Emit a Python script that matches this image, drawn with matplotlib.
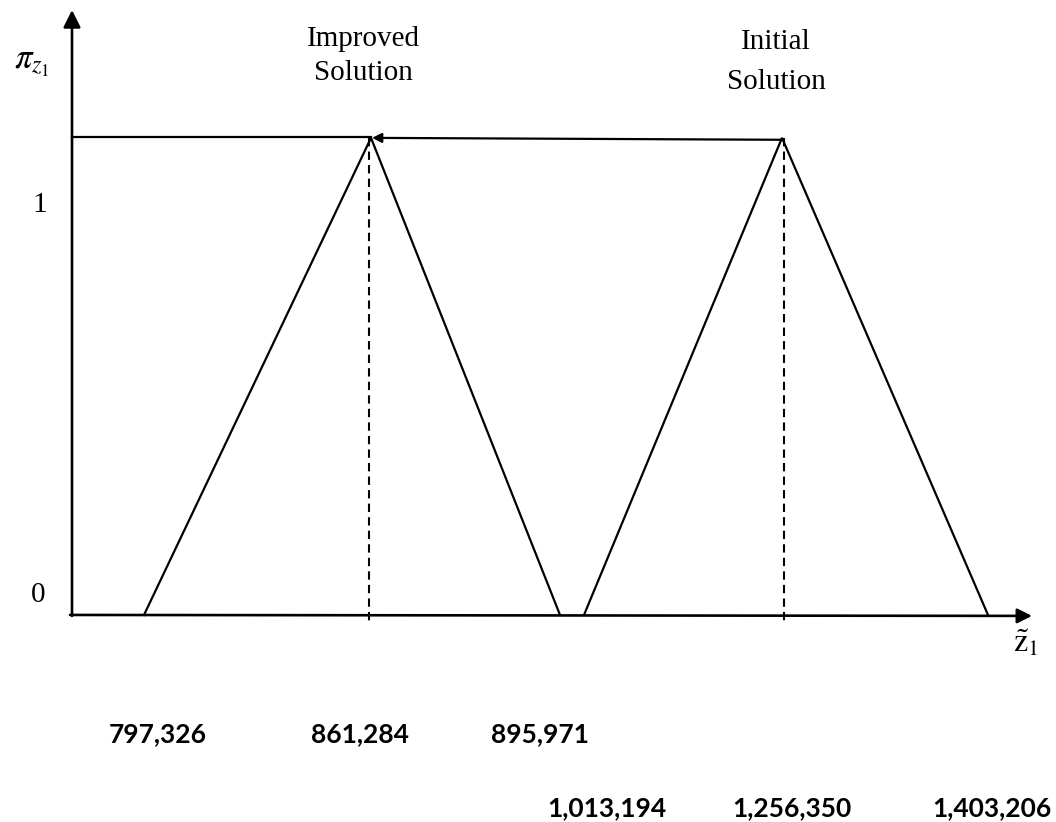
import matplotlib
matplotlib.use("Agg")
import matplotlib.pyplot as plt

# ---- data (values from the reference) ----
improved_vals = [797326, 861284, 895971]      # left, peak, right of improved solution
initial_vals = [1013194, 1256350, 1403206]    # left, peak, right of initial solution
membership = [0, 1, 0]                         # triangular membership at left, peak, right
solution_names = ["Improved\nSolution", "Initial\nSolution"]
y_tick_labels = ["0", "1"]

# ---- schematic layout (diagram is not to scale) ----
improved_pos = [144, 371, 560]
initial_pos = [584, 782, 988]

plt.rcParams["mathtext.fontset"] = "stix"
serif = "Liberation Serif"

fig = plt.figure(figsize=(10.56, 8.22), dpi=100)
ax = fig.add_axes([0, 0, 1, 1])
ax.set_xlim(0, 1056)
ax.set_ylim(-0.434, 1.289)
ax.axis("off")

lw = 1.6
# axes with arrows
ax.annotate("", xy=(72, 1.268), xytext=(72, -0.002),
            arrowprops=dict(arrowstyle="-|>", lw=1.9, color="black",
                            mutation_scale=26, shrinkA=0, shrinkB=0))
ax.annotate("", xy=(1032, -0.002), xytext=(70, 0.0),
            arrowprops=dict(arrowstyle="-|>", lw=1.9, color="black",
                            mutation_scale=22, shrinkA=0, shrinkB=0))

# triangles
ax.plot(improved_pos, membership, color="black", lw=lw, solid_joinstyle="miter")
ax.plot(initial_pos, membership, color="black", lw=lw, solid_joinstyle="miter")

# dashed verticals at peaks
for pos in (improved_pos[1] - 2, initial_pos[1] + 2):
    ax.plot([pos, pos], [membership[1], -0.012], color="black", lw=1.5,
            ls=(0, (4, 2.5)))

# horizontal line to the improved peak, and arrow from initial to improved
ax.plot([72, improved_pos[1]], [1.002, 1.002], color="black", lw=lw)
ax.annotate("", xy=(improved_pos[1] + 1, 1.0), xytext=(initial_pos[1], 0.996),
            arrowprops=dict(arrowstyle="-|>", lw=lw, color="black",
                            mutation_scale=14, shrinkA=0, shrinkB=0))

# solution titles
ax.text(363, 1.172, solution_names[0], ha="center", va="center",
        fontsize=21, family=serif, linespacing=1.4)
ax.text(776, 1.158, solution_names[1], ha="center", va="center",
        fontsize=21, family=serif, linespacing=1.7)

# axis labels
ax.text(32, 1.16, r"$\pi_{z_1}$", ha="center", va="center", fontsize=25)
ax.text(1026, -0.06, r"$\tilde{\mathrm{z}}_1$", ha="center", va="center", fontsize=23)
ax.text(38, 0.042, y_tick_labels[0], ha="center", va="center", fontsize=21, family=serif)
ax.text(40, 0.86, y_tick_labels[1], ha="center", va="center", fontsize=21, family=serif)

# value labels
row1_x = [158, 360, 540]
row2_x = [607, 792, 992]
for x, v in zip(row1_x, improved_vals):
    ax.text(x, -0.249, f"{v:,}", ha="center", va="center", fontsize=19,
            family="Lato", fontweight="bold")
for x, v in zip(row2_x, initial_vals):
    ax.text(x, -0.405, f"{v:,}", ha="center", va="center", fontsize=19,
            family="Lato", fontweight="bold")

fig.savefig("out.png", dpi=100, facecolor="white")
